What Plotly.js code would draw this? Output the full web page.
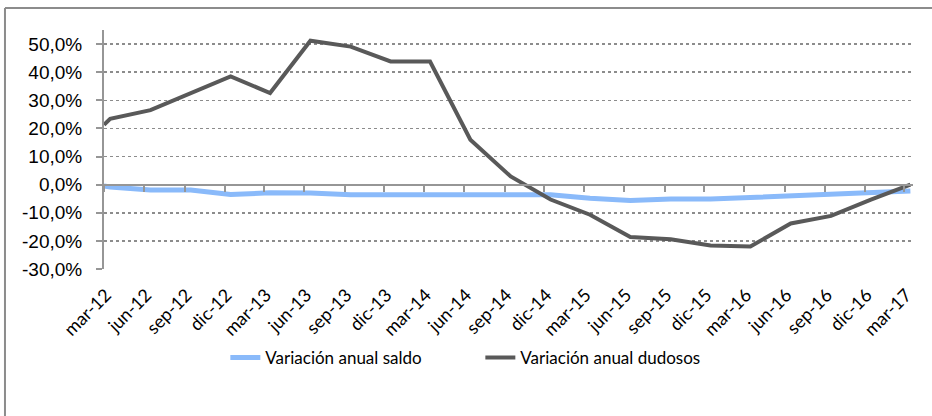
<!DOCTYPE html>
<html>
<head>
<meta charset="utf-8">
<script src="https://cdn.plot.ly/plotly-3.0.1.min.js"></script>
<style>html,body{margin:0;padding:0;background:#fff;}#chart{width:932px;height:416px;}</style>
</head>
<body>
<div id="chart"></div>
<script>
// Tick labels (quarters) and their dates
const tickLabels = ['mar-12','jun-12','sep-12','dic-12','mar-13','jun-13','sep-13','dic-13','mar-14','jun-14','sep-14','dic-14','mar-15','jun-15','sep-15','dic-15','mar-16','jun-16','sep-16','dic-16','mar-17'];
const tickDates = ['2012-03-01','2012-06-01','2012-09-01','2012-12-01','2013-03-01','2013-06-01','2013-09-01','2013-12-01','2014-03-01','2014-06-01','2014-09-01','2014-12-01','2015-03-01','2015-06-01','2015-09-01','2015-12-01','2016-03-01','2016-06-01','2016-09-01','2016-12-01','2017-03-01'];
// Data dates (first value at axis start, then quarterly observations)
const dataDates = ['2012-03-01','2012-03-15','2012-06-15','2012-09-15','2012-12-15','2013-03-15','2013-06-15','2013-09-15','2013-12-15','2014-03-15','2014-06-15','2014-09-15','2014-12-15','2015-03-15','2015-06-15','2015-09-15','2015-12-15','2016-03-15','2016-06-15','2016-09-15','2016-12-15','2017-03-15'];
// Series values (%)
const saldo = [-0.5,-0.8,-1.9,-1.9,-3.5,-2.9,-3.0,-3.6,-3.6,-3.6,-3.6,-3.6,-3.6,-4.8,-5.6,-5.1,-5.1,-4.6,-4.0,-3.4,-2.7,-2.3];
const dudosos = [21.3,23.4,26.5,32.4,38.5,32.6,51.2,49.1,43.8,43.8,16.0,2.9,-5.3,-10.7,-18.6,-19.4,-21.6,-22.0,-13.8,-11.1,-5.3,0.0];
const yTicks = [-30,-20,-10,0,10,20,30,40,50];
const yTickText = yTicks.map(v => v.toFixed(1).replace('.', ',') + '%');

const seriesNames = ['Variación anual saldo','Variación anual dudosos'];

const traces = [
  {x: dataDates, y: saldo, type: 'scatter', mode: 'lines', name: seriesNames[0],
   line: {color: 'rgb(138,186,250)', width: 5}, xaxis: 'x', yaxis: 'y'},
  {x: dataDates, y: dudosos, type: 'scatter', mode: 'lines', name: seriesNames[1],
   line: {color: 'rgb(89,89,89)', width: 4}, xaxis: 'x2', yaxis: 'y'}
];

const gray = 'rgb(150,150,150)';
const labelFont = 'Lato, Carlito, Calibri, sans-serif';
const layout = {
  width: 932, height: 416,
  margin: {l: 104, r: 19, t: 30, b: 147},
  paper_bgcolor: '#fff', plot_bgcolor: '#fff',
  showlegend: true,
  font: {family: 'Liberation Sans, Arial, sans-serif', color: '#000'},
  xaxis: {
    type: 'date', range: ['2012-03-01','2017-03-21'],
    tickmode: 'array', tickvals: tickDates, ticktext: tickLabels,
    tickangle: -45, showgrid: false, zeroline: false, showline: false, ticks: '',
    ticklabelstandoff: 11, ticklabelshift: 2,
    tickfont: {family: labelFont, size: 18, color: '#000'},
    fixedrange: true
  },
  xaxis2: {
    type: 'date', matches: 'x', overlaying: 'x', anchor: 'free', position: 30/85,
    tickmode: 'array', tickvals: tickDates, showticklabels: false,
    ticks: 'outside', ticklen: 6, tickwidth: 2, tickcolor: gray,
    showline: true, linecolor: gray, linewidth: 2, showgrid: false, zeroline: false
  },
  yaxis: {
    range: [-30, 55], tickmode: 'array', tickvals: yTicks, ticktext: yTickText,
    showgrid: true, gridcolor: 'rgb(140,140,140)', griddash: 'dot', gridwidth: 1.5,
    zeroline: false, showline: true, linecolor: gray, linewidth: 2,
    ticks: 'outside', ticklen: 6, tickwidth: 2, tickcolor: gray,
    ticklabelstandoff: 10,
    tickfont: {family: 'Liberation Sans, Arial, sans-serif', size: 19, color: '#000'}
  },
  legend: {
    orientation: 'h', x: 0.15, xanchor: 'left', y: -0.372, yanchor: 'middle',
    font: {family: labelFont, size: 17, color: '#000'},
    entrywidth: 210, bgcolor: 'rgba(0,0,0,0)'
  },
  shapes: [
    {type: 'line', xref: 'paper', yref: 'paper', x0: -0.1224, x1: 1.1, y0: 1.092, y1: 1.092,
     line: {color: 'rgb(140,140,140)', width: 2}},
    {type: 'line', xref: 'paper', yref: 'paper', x0: -0.1224, x1: -0.1224, y0: 1.092, y1: -0.7,
     line: {color: 'rgb(140,140,140)', width: 2}}
  ]
};

Plotly.newPlot('chart', traces, layout, {displayModeBar: false, staticPlot: true});
</script>
</body>
</html>
